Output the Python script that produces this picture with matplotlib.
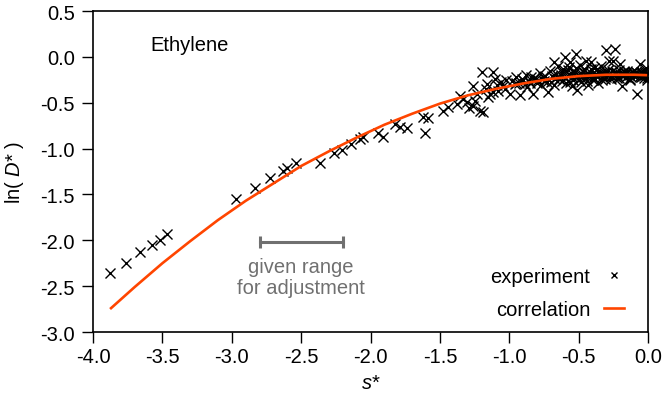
import numpy as np
import matplotlib
matplotlib.use("Agg")
import matplotlib.pyplot as plt

plt.rcParams['font.family'] = ['Liberation Sans', 'DejaVu Sans']
plt.rcParams['mathtext.fontset'] = 'custom'
plt.rcParams['mathtext.rm'] = 'Liberation Sans'
plt.rcParams['mathtext.it'] = 'Liberation Sans:italic'
plt.rcParams['axes.unicode_minus'] = False

FS = 14.5

# experimental points, reduced entropy s* vs ln(D*)
s_low = [-3.877, -3.762, -3.661, -3.575, -3.517, -3.467,
         -2.968, -2.833, -2.725, -2.629, -2.605, -2.537, -2.365, -2.264,
         -2.208, -2.143, -2.076, -2.053, -1.945, -1.909, -1.824, -1.788,
         -1.740, -1.620, -1.584, -1.608]
d_low = [-2.357, -2.248, -2.128, -2.052, -1.997, -1.932,
         -1.553, -1.427, -1.324, -1.241, -1.215, -1.158, -1.154, -1.050,
         -1.013, -0.950, -0.896, -0.870, -0.830, -0.870, -0.732, -0.768,
         -0.775, -0.659, -0.670, -0.835]

s_mid = [-1.476, -1.44, -1.380, -1.356, -1.33, -1.308, -1.29, -1.260, -1.260,
         -1.248, -1.23, -1.212, -1.200, -1.188, -1.17, -1.164, -1.15, -1.140,
         -1.116, -1.116, -1.104, -1.09, -1.080, -1.06, -1.044, -1.03, -1.02,
         -0.996]
d_mid = [-0.587, -0.55, -0.514, -0.424, -0.46, -0.496, -0.56, -0.533, -0.315,
         -0.478, -0.40, -0.587, -0.168, -0.605, -0.35, -0.296, -0.44, -0.405,
         -0.168, -0.387, -0.242, -0.31, -0.369, -0.27, -0.315, -0.35, -0.25,
         -0.405]

s_high = [-0.98, -0.96, -0.95, -0.93, -0.92, -0.90, -0.88, -0.87, -0.85, -0.84,
          -0.83, -0.81, -0.80, -0.78, -0.77, -0.75, -0.74, -0.72, -0.71, -0.70,
          -0.68, -0.68, -0.66, -0.65, -0.64, -0.62, -0.61, -0.60, -0.59, -0.58,
          -0.57, -0.56, -0.55, -0.54, -0.53, -0.52, -0.51, -0.50, -0.49, -0.48,
          -0.47, -0.46, -0.45, -0.44, -0.43, -0.42, -0.41, -0.40, -0.39, -0.38,
          -0.37, -0.36, -0.35, -0.34, -0.33, -0.32, -0.31, -0.30, -0.29, -0.28,
          -0.27, -0.26, -0.25, -0.24, -0.23, -0.22, -0.21, -0.20, -0.19, -0.18,
          -0.17, -0.16, -0.15, -0.14, -0.13, -0.12, -0.11, -0.10, -0.09, -0.08,
          -0.07, -0.06, -0.05, -0.04, -0.03, -0.02, -0.01, 0.00, -0.015, -0.005]
d_high = [-0.26, -0.30, -0.22, -0.28, -0.42, -0.25, -0.20, -0.33, -0.29, -0.22,
          -0.40, -0.24, -0.28, -0.18, -0.31, -0.26, -0.21, -0.38, -0.15, -0.27,
          -0.06, -0.31, -0.19, -0.10, -0.24, -0.17, -0.13, 0.00, -0.28, -0.21,
          -0.11, -0.06, -0.32, -0.25, -0.15, 0.03, -0.36, -0.20, -0.09, -0.27,
          -0.17, -0.13, -0.04, -0.22, -0.31, -0.16, -0.06, -0.25, -0.12, -0.20,
          -0.13, -0.29, -0.18, -0.10, -0.22, -0.16, -0.24, 0.07, -0.19, -0.05,
          -0.21, -0.15, -0.04, 0.09, -0.18, -0.23, -0.14, -0.08, -0.32, -0.20,
          -0.17, -0.22, -0.15, -0.19, -0.25, -0.18, -0.16, -0.21, -0.17, -0.41,
          -0.19, -0.08, -0.22, -0.17, -0.20, -0.15, -0.23, -0.18, -0.12, -0.25]

# densely packed points along the plateau
s_band = [-0.95, -0.91, -0.89, -0.86, -0.82, -0.79, -0.76, -0.73, -0.69, -0.67,
          -0.63, -0.60, -0.57, -0.55, -0.53, -0.50, -0.48, -0.46, -0.44, -0.42,
          -0.40, -0.38, -0.36, -0.34, -0.32, -0.30, -0.28, -0.26, -0.24, -0.22,
          -0.20, -0.18, -0.16, -0.14, -0.12, -0.10, -0.08, -0.06, -0.04, -0.02,
          -0.58, -0.52, -0.47, -0.41, -0.35, -0.29, -0.23, -0.17, -0.11, -0.05,
          -0.62, -0.56, -0.50, -0.44, -0.38, -0.33, -0.27, -0.21, -0.13, -0.03]
d_band = [-0.28, -0.24, -0.30, -0.26, -0.23, -0.25, -0.22, -0.27, -0.21, -0.24,
          -0.20, -0.23, -0.19, -0.22, -0.18, -0.24, -0.20, -0.22, -0.18, -0.21,
          -0.23, -0.19, -0.21, -0.18, -0.20, -0.22, -0.19, -0.21, -0.18, -0.20,
          -0.19, -0.21, -0.18, -0.20, -0.22, -0.19, -0.18, -0.21, -0.19, -0.20,
          -0.14, -0.12, -0.15, -0.13, -0.15, -0.14, -0.16, -0.15, -0.16, -0.17,
          -0.26, -0.27, -0.25, -0.26, -0.24, -0.25, -0.24, -0.23, -0.24, -0.23]

s_exp = s_low + s_mid + s_high + s_band
d_exp = d_low + d_mid + d_high + d_band

# correlation curve
s_corr = [-3.87, -3.7, -3.5, -3.3, -3.1, -2.9, -2.7, -2.5, -2.3, -2.1, -1.9,
          -1.7, -1.5, -1.3, -1.1, -0.9, -0.7, -0.5, -0.3, -0.1, 0.0]
d_corr = [-2.74, -2.51, -2.25, -2.01, -1.78, -1.57, -1.38, -1.19, -1.03, -0.88,
          -0.74, -0.62, -0.51, -0.42, -0.35, -0.29, -0.24, -0.21, -0.195,
          -0.195, -0.20]

# range used for fitting
fit_range = [-2.80, -2.20]
fit_level = -2.02

fig = plt.figure(figsize=(6.63, 4.06), dpi=100)
ax = fig.add_axes([0.1403, 0.1798, 0.8371, 0.7906])

ax.plot(s_exp, d_exp, 'x', color='black', ms=6.5, mew=1.0, label='experiment')
ax.plot(s_corr, d_corr, '-', color='#ff4500', lw=1.9, label='correlation')

grey = '#707070'
ax.plot(fit_range, [fit_level, fit_level], '-', color=grey, lw=2.2)
ax.plot(fit_range, [fit_level, fit_level], '|', color=grey, ms=9, mew=2.2)
ax.text(np.mean(fit_range), -2.18, 'given range\nfor adjustment', color=grey,
        ha='center', va='top', fontsize=FS, linespacing=1.15)

ax.text(0.104, 0.895, 'Ethylene', transform=ax.transAxes, fontsize=FS,
        ha='left', va='center')

ax.set_xlim(-4.0, 0.0)
ax.set_ylim(-3.0, 0.5)
ax.set_xticks(np.arange(-4.0, 0.01, 0.5))
ax.set_yticks(np.arange(-3.0, 0.51, 0.5))
ax.xaxis.set_major_formatter(matplotlib.ticker.FormatStrFormatter('%.1f'))
ax.yaxis.set_major_formatter(matplotlib.ticker.FormatStrFormatter('%.1f'))
ax.tick_params(direction='out', length=8, width=1, labelsize=FS)
ax.tick_params(axis='y', pad=5)
ax.tick_params(axis='x', pad=3)
for sp in ax.spines.values():
    sp.set_linewidth(1.2)

ax.set_xlabel(r'$\it{s}$*', fontsize=FS)
ax.set_ylabel(r'ln($\ \mathit{D}$*$\ $)', fontsize=FS)
ax.xaxis.set_label_coords(0.5, -0.128)
ax.yaxis.set_label_coords(-0.120, 0.5)

ax.legend(loc='lower right', bbox_to_anchor=(0.99, -0.015), frameon=False,
          markerfirst=False, fontsize=FS, handlelength=1.0, handletextpad=0.7,
          labelspacing=0.7, markerscale=0.75)

fig.savefig('out.png', dpi=100)
